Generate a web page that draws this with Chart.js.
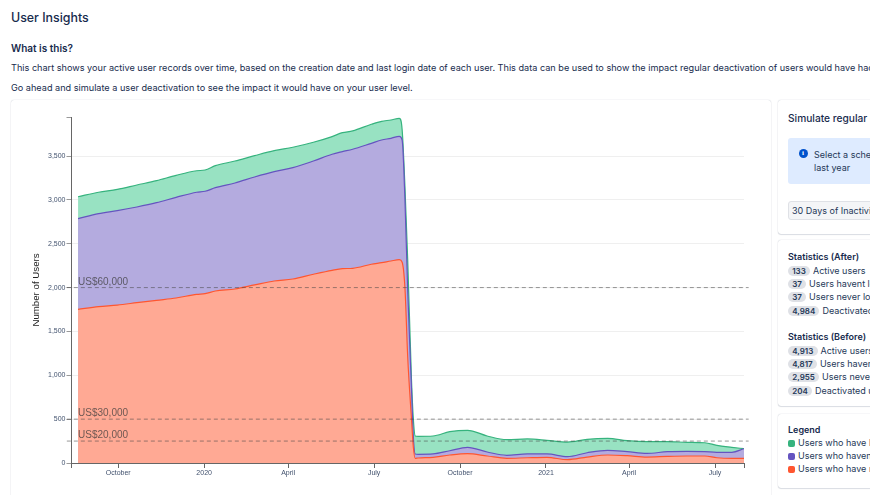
<!DOCTYPE html>
<html>
<head>
<meta charset="utf-8">
<title>User Insights</title>
<script src="https://cdn.jsdelivr.net/npm/chart.js@4/dist/chart.umd.min.js"></script>
<style>
html, body { margin: 0; padding: 0; width: 870px; height: 495px; overflow: hidden; background: #fff; }
body { font-family: Inter, "Noto Sans", sans-serif; color: #172B4D; position: relative; }
.t { position: absolute; white-space: nowrap; line-height: 14px; }
#h1 { left: 11px; top: 11px; font-size: 12.4px; font-weight: 500; }
#h2 { left: 11px; top: 41px; font-size: 10px; font-weight: 600; }
#p1 { left: 11px; top: 61px; font-size: 9.13px; }
#p2 { left: 11px; top: 81px; font-size: 9.13px; }
.card { position: absolute; background: #fff; border-radius: 3px; box-shadow: 0 0 1px rgba(9,30,66,.31), 0 1px 1px rgba(9,30,66,.12); }
#chartCard { left: 11px; top: 100px; width: 760px; height: 410px; }
#chartCard canvas { position: absolute; left: 0; top: 0; }
#simCard { left: 778px; top: 100px; width: 120px; height: 134px; }
#statCard { left: 778px; top: 240px; width: 120px; height: 166px; }
#legendCard { left: 778px; top: 414px; width: 120px; height: 74px; }
#simTitle { left: 788px; top: 111px; font-size: 10.2px; font-weight: 500; }
#info { position: absolute; left: 788px; top: 138px; width: 100px; height: 46px; background: #DEEBFF; border-radius: 3px; }
#icon { position: absolute; left: 798.5px; top: 149px; width: 9px; height: 9px; border-radius: 50%; background: #0052CC; color: #fff; font: bold 7px/9px "Liberation Serif", serif; text-align: center; }
#sel1 { left: 814px; top: 148px; font-size: 9px; color: #253858; }
#sel2 { left: 814px; top: 161px; font-size: 9px; color: #253858; }
#select { position: absolute; left: 788px; top: 201px; width: 100px; height: 19px; background: #F4F5F7; border: 1px solid #DFE1E6; border-radius: 3px; box-sizing: border-box; }
#selText { left: 792px; top: 204px; font-size: 9px; color: #253858; }
.head { font-size: 9px; font-weight: 600; left: 788px; }
.row { font-size: 9px; left: 788px; color: #253858; }
.lozenge { display: inline-block; background: #DFE1E6; border-radius: 6px; padding: 0 4.2px; font-size: 8px; font-weight: 600; line-height: 10px; margin-right: 3px; color: #253858; }
.swatch { position: absolute; left: 788px; width: 7px; height: 7px; border-radius: 2px; }
</style>
</head>
<body>
<div class="t" id="h1">User Insights</div>
<div class="t" id="h2">What is this?</div>
<div class="t" id="p1">This chart shows your active user records over time, based on the creation date and last login date of each user. This data can be used to show the impact regular deactivation of users would have had</div>
<div class="t" id="p2">Go ahead and simulate a user deactivation to see the impact it would have on your user level.</div>

<div class="card" id="chartCard"><canvas id="chart" width="760" height="395"></canvas></div>

<div class="card" id="simCard"></div>
<div class="t" id="simTitle">Simulate regular deactivation</div>
<div id="info"></div>
<div id="icon">i</div>
<div class="t" id="sel1">Select a schedule</div>
<div class="t" id="sel2">last year</div>
<div id="select"></div>
<div class="t" id="selText">30 Days of Inactivity</div>

<div class="card" id="statCard"></div>
<div class="card" id="legendCard"></div>
<div id="sideText"></div>

<script>
// days since 1 October 2019
const days = [-43, -21, -1, 20, 41, 62, 84, 93, 104, 125, 146, 167, 187, 209, 229, 240, 251, 271, 282, 292, 301, 304, 307, 310, 314, 316, 318, 321,
    337, 355, 374, 395, 416, 438, 459, 481, 502, 524, 545, 566, 588, 609, 628, 641, 657, 670];

const greenTop = [3036, 3087, 3120, 3170, 3219, 3280, 3332, 3341, 3390, 3443, 3504, 3561, 3600, 3657, 3722, 3766, 3786, 3862, 3896, 3911, 3930, 3800, 3150, 2300, 950, 500, 308, 304,
    308, 357, 373, 308, 266, 274, 259, 239, 270, 281, 254, 243, 243, 236, 231, 201, 179, 163];
const purpleTop = [2786, 2843, 2877, 2919, 2968, 3029, 3087, 3098, 3139, 3193, 3261, 3322, 3367, 3443, 3520, 3550, 3577, 3645, 3683, 3702, 3725, 3683, 3000, 1950, 850, 300, 103, 99,
    103, 140, 179, 125, 88, 103, 103, 72, 117, 145, 129, 110, 129, 133, 129, 122, 122, 163];
const redTop = [1752, 1782, 1801, 1828, 1855, 1881, 1923, 1931, 1961, 1984, 2030, 2075, 2098, 2152, 2197, 2216, 2220, 2266, 2284, 2303, 2318, 2289, 1995, 1200, 500, 180, 53, 57,
    65, 91, 106, 80, 53, 60, 65, 38, 68, 91, 83, 68, 76, 80, 80, 60, 53, 53];

const xTickDays = [0, 92, 182, 274, 366, 458, 547, 639];
const xTickLabels = ['October', '2020', 'April', 'July', 'October', '2021', 'April', 'July'];
const yTicks = [0, 500, 1000, 1500, 2000, 2500, 3000, 3500];

const thresholdValues = [2000, 500, 250];
const thresholdLabels = ['US$60,000', 'US$30,000', 'US$20,000'];

const statsAfter = [['133', 'Active users'], ['37', 'Users havent logged in'], ['37', 'Users never logged in'], ['4,984', 'Deactivated users']];
const statsBefore = [['4,913', 'Active users'], ['4,817', 'Users havent logged in'], ['2,955', 'Users never logged in'], ['204', 'Deactivated users']];
const legendNames = ['Users who have logged in', 'Users who havent logged in', 'Users who have never logged in'];
const legendColors = ['#36B37E', '#6554C0', '#FF5630'];

// sidebar text
const side = document.getElementById('sideText');
function addText(cls, top, html) {
    const d = document.createElement('div');
    d.className = 't ' + cls;
    d.style.top = top + 'px';
    d.innerHTML = html;
    side.appendChild(d);
}
addText('head', 250, 'Statistics (After)');
statsAfter.forEach((s, i) => addText('row', [264, 277, 290, 304][i], `<span class="lozenge">${s[0]}</span>${s[1]}`));
addText('head', 330, 'Statistics (Before)');
statsBefore.forEach((s, i) => addText('row', [344, 357, 370, 384][i], `<span class="lozenge">${s[0]}</span>${s[1]}`));
addText('head', 423, 'Legend');
legendNames.forEach((name, i) => {
    const top = [436, 449, 462][i];
    const t = document.createElement('div');
    t.className = 't row';
    t.style.left = '798px';
    t.style.top = top + 'px';
    t.textContent = name;
    side.appendChild(t);
    const sw = document.createElement('div');
    sw.className = 'swatch';
    sw.style.top = (top + 3.5) + 'px';
    sw.style.background = legendColors[i];
    side.appendChild(sw);
});

function area(label, values, line, fill) {
    return {
        label: label,
        data: days.map((d, i) => ({ x: d, y: values[i] })),
        borderColor: line,
        backgroundColor: fill,
        borderWidth: 1.2,
        pointRadius: 0,
        fill: 'origin',
        cubicInterpolationMode: 'monotone'
    };
}

// dashed price lines stick out a little past both ends of the axis
const thresholdSets = thresholdValues.map((v, i) => ({
    label: thresholdLabels[i],
    data: [{ x: -55, y: v }, { x: 675, y: v }],
    borderColor: 'rgba(70,70,70,0.55)',
    borderWidth: 1,
    borderDash: [4, 3],
    pointRadius: 0,
    fill: false,
    clip: false
}));

const thresholdText = {
    id: 'thresholdText',
    afterDatasetsDraw(chart) {
        const ctx = chart.ctx;
        ctx.save();
        ctx.font = '10px "Liberation Sans"';
        ctx.fillStyle = 'rgba(60,60,60,0.75)';
        ctx.textAlign = 'left';
        ctx.textBaseline = 'alphabetic';
        thresholdValues.forEach((v, i) => {
            ctx.fillText(thresholdLabels[i], chart.scales.x.getPixelForValue(-43), chart.scales.y.getPixelForValue(v) - 3);
        });
        ctx.restore();
    }
};

new Chart(document.getElementById('chart').getContext('2d'), {
    type: 'line',
    data: {
        datasets: [
            ...thresholdSets,
            area(legendNames[2], redTop, '#FF5630', '#FFA994'),
            area(legendNames[1], purpleTop, '#6554C0', '#B4ABDF'),
            area(legendNames[0], greenTop, '#36B37E', '#98E2C2')
        ]
    },
    plugins: [thresholdText],
    options: {
        responsive: false,
        animation: false,
        layout: { padding: { left: 0, right: 27, top: 17, bottom: 0 } },
        plugins: { legend: { display: false }, tooltip: { enabled: false } },
        scales: {
            x: {
                type: 'linear',
                min: -50,
                max: 670,
                afterFit(scale) { scale.height = 32; },
                afterBuildTicks(scale) {
                    scale.ticks = [-50, ...xTickDays, 670].map(v => ({ value: v }));
                },
                border: { color: '#666', width: 1 },
                grid: { drawOnChartArea: false, tickLength: 5, tickColor: '#666' },
                ticks: {
                    autoSkip: false,
                    maxRotation: 0,
                    padding: 1,
                    color: '#42526E',
                    font: { family: '"Liberation Sans"', size: 7 },
                    callback: v => {
                        const i = xTickDays.indexOf(v);
                        return i >= 0 ? xTickLabels[i] : '';
                    }
                }
            },
            y: {
                min: 0,
                max: 3945,
                afterFit(scale) { scale.width = 60.5; },
                afterBuildTicks(scale) {
                    scale.ticks = [...yTicks, 3945].map(v => ({ value: v }));
                },
                border: { color: '#666', width: 1 },
                title: {
                    display: true,
                    text: 'Number of Users',
                    color: '#222',
                    font: { family: '"Liberation Sans"', size: 9.7 },
                    padding: { top: 20, bottom: 0 }
                },
                grid: {
                    color: ctx => ctx.tick && ctx.tick.value === 3945 ? 'rgba(0,0,0,0)' : '#EFEFEF',
                    tickColor: '#999',
                    tickLength: 5
                },
                ticks: {
                    padding: 1,
                    color: '#42526E',
                    font: { family: '"Liberation Sans"', size: 7 },
                    callback: v => v === 3945 ? '' : v.toLocaleString('en-US')
                }
            }
        }
    }
});
</script>
</body>
</html>
